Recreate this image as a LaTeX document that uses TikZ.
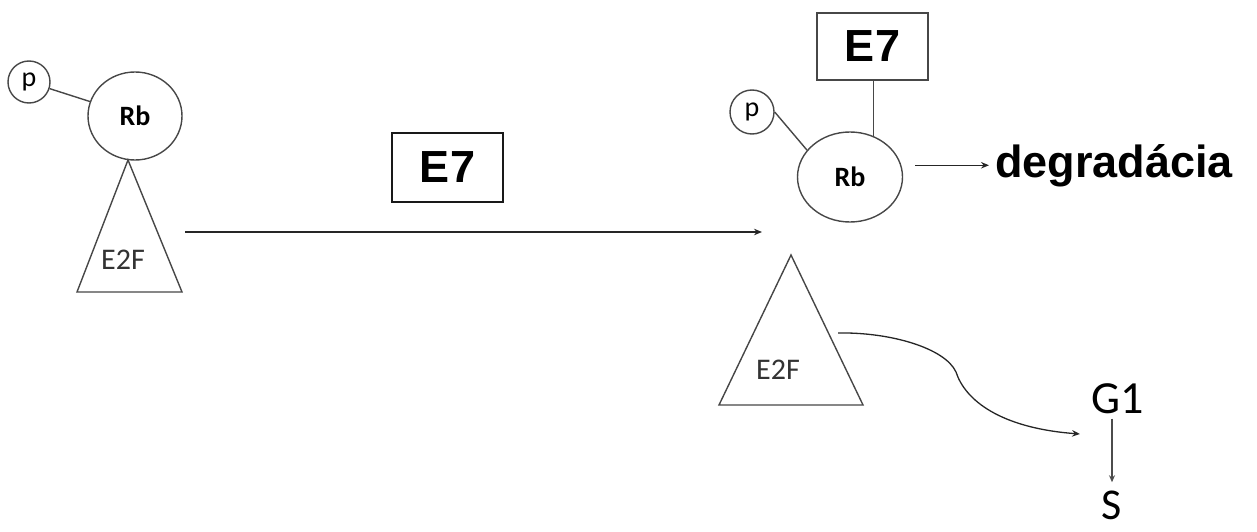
\documentclass[tikz,border=0pt]{standalone}
\usepackage{fontspec}
\setmainfont{Carlito}
\newfontfamily\arialf{Liberation Sans}
\usetikzlibrary{arrows.meta,shapes.geometric}
\begin{document}
\begin{tikzpicture}[x=1pt,y=-1pt,
  shp/.style={draw=black!72, line width=1.4pt},
  arr/.style={draw=black!85, line width=1.3pt, -{Stealth[length=8pt,width=6.5pt]}},
  ovalnode/.style={shp, ellipse, inner sep=0pt, font=\bfseries\fontsize{28}{28}\selectfont},
  pnode/.style={shp, circle, inner sep=0pt, font=\fontsize{28}{28}\selectfont},
  lbl/.style={inner sep=0pt, text=black!80, font=\fontsize{30}{30}\selectfont},
  bigtxt/.style={inner sep=0pt, font=\arialf\bfseries\fontsize{45}{45}\selectfont},
  gtxt/.style={inner sep=0pt, font=\fontsize{46}{46}\selectfont}
]
\useasboundingbox (0,0) rectangle (1257,532);

% ---------- left complex ----------
\node[ovalnode, minimum width=94pt, minimum height=88pt] (rb1) at (135,116) {Rb};
\node[pnode, minimum size=42pt] (p1) at (29,82) {p};
\draw[shp] (p1) -- (rb1);
\coordinate (t1a) at (128,160);
\coordinate (t1b) at (182,292);
\coordinate (t1c) at (77,292);
\draw[shp, line join=miter] (t1a) -- (t1b) -- (t1c) -- cycle;
\node[lbl] (e2f1) at (123,260) {E2F};

% ---------- main arrow with E7 ----------
\node[bigtxt, draw=black!90, line width=2.6pt, minimum width=111pt, minimum height=69pt] (e7a) at (447.5,167.5) {E7};
\coordinate (a1) at (185,232);
\coordinate (a2) at (762,232);
\draw[arr, line width=1.7pt] (a1) -- (a2);

% ---------- right complex ----------
\node[bigtxt, shp, minimum width=111pt, minimum height=67pt] (e7b) at (872.5,46.5) {E7};
\node[ovalnode, minimum width=105pt, minimum height=90pt] (rb2) at (850,177) {Rb};
\node[pnode, minimum size=44pt] (p2) at (752,112) {p};
\draw[shp] (p2.east) -- (rb2.148);
\draw[shp] (rb2.60) -- (rb2.60 |- e7b.south);
\node[bigtxt, anchor=base west, inner xsep=6pt] (deg) at (989,177) {degradácia};
\draw[arr] ([xshift=12pt]rb2.east |- deg.west) -- (deg.west);

% ---------- free E2F ----------
\coordinate (t2a) at (791,255);
\coordinate (t2b) at (863,405);
\coordinate (t2c) at (719,405);
\draw[shp, line join=miter] (t2a) -- (t2b) -- (t2c) -- cycle;
\node[lbl] (e2f2) at (778,370) {E2F};

\node[gtxt, anchor=base west] (g1) at (1091,413) {G1};
\node[gtxt, anchor=base, font=\fontsize{44}{44}\selectfont] (s) at (1112,519) {S};

\coordinate (c1) at (838,333);
\coordinate (c2) at (1080,434);
\draw[arr] (c1) .. controls (890,332) and (945,348) .. (956,372)
               .. controls (965,400) and (1000,428) .. (c2);
\draw[arr, draw=black!70, -{Stealth[length=7pt,width=6pt]}]
  ([yshift=-5pt]g1.south -| s.north) -- ([yshift=8pt]s.north);
\end{tikzpicture}
\end{document}
